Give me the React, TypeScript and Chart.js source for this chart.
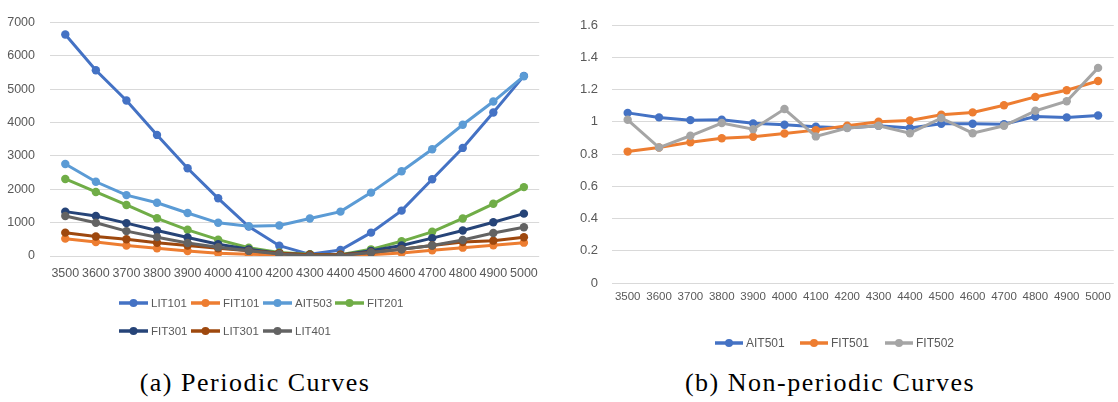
import React, { useEffect, useRef } from "react";
import { Chart, registerables } from "chart.js";
Chart.register(...registerables);

// ---------- data ----------
const categories = ["3500", "3600", "3700", "3800", "3900", "4000", "4100", "4200", "4300", "4400", "4500", "4600", "4700", "4800", "4900", "5000"];

// (a) periodic curves
const lit101 = [6640, 5570, 4660, 3630, 2630, 1730, 880, 310, 50, 180, 700, 1360, 2300, 3240, 4300, 5400];
const fit101 = [520, 420, 315, 230, 150, 85, 55, 30, 10, 10, 40, 90, 170, 250, 320, 400];
const ait503 = [2760, 2225, 1825, 1595, 1290, 995, 895, 915, 1125, 1330, 1900, 2540, 3200, 3935, 4630, 5390];
const fit201 = [2310, 1920, 1530, 1130, 785, 490, 250, 105, 55, 40, 200, 440, 725, 1125, 1565, 2065];
const fit301 = [1330, 1200, 985, 765, 555, 355, 200, 85, 40, 30, 155, 315, 535, 765, 1010, 1270];
const lit301 = [700, 585, 500, 395, 315, 230, 155, 85, 40, 40, 105, 200, 315, 420, 460, 560];
const lit401 = [1200, 995, 745, 565, 390, 265, 155, 60, 10, 10, 105, 200, 315, 480, 690, 860];
const periodicNames = ["LIT101", "FIT101", "AIT503", "FIT201", "FIT301", "LIT301", "LIT401"];
const periodicSeries = [lit101, fit101, ait503, fit201, fit301, lit301, lit401];
const periodicColors = ["#4472C4", "#ED7D31", "#5B9BD5", "#70AD47", "#264478", "#9E480E", "#636363"];

// (b) non-periodic curves
const ait501 = [1.055, 1.027, 1.01, 1.012, 0.99, 0.981, 0.969, 0.962, 0.975, 0.962, 0.988, 0.988, 0.985, 1.033, 1.027, 1.039];
const fit501 = [0.815, 0.84, 0.873, 0.898, 0.907, 0.927, 0.948, 0.975, 1.0, 1.008, 1.044, 1.058, 1.102, 1.154, 1.195, 1.253];
const fit502 = [1.012, 0.84, 0.913, 0.992, 0.954, 1.079, 0.909, 0.961, 0.975, 0.929, 1.023, 0.929, 0.975, 1.068, 1.127, 1.334];
const nonPeriodicNames = ["AIT501", "FIT501", "FIT502"];
const nonPeriodicSeries = [ait501, fit501, fit502];
const nonPeriodicColors = ["#4472C4", "#ED7D31", "#A5A5A5"];

const captionA = "(a) Periodic Curves";
const captionB = "(b) Non-periodic Curves";

const FONT = "'Liberation Sans', Arial, sans-serif";
const TEXT = "#595959";
const GRID = "#D9D9D9";

type LegendCfg = {
  rows: number[][];
  x: number;
  ys: number[];
  colWidth: number;
  lineLen: number;
  fontSize: number;
};

function makeLegend(cfg: LegendCfg) {
  return {
    id: "excelLegend",
    afterDraw(chart: any) {
      const ctx = chart.ctx;
      ctx.save();
      ctx.font = `${cfg.fontSize}px ${FONT}`;
      ctx.textBaseline = "middle";
      ctx.textAlign = "left";
      cfg.rows.forEach((row, r) => {
        const y = cfg.ys[r];
        row.forEach((di, c) => {
          const ds = chart.data.datasets[di];
          const x0 = cfg.x + c * cfg.colWidth;
          ctx.strokeStyle = ds.borderColor;
          ctx.lineWidth = 3.5;
          ctx.beginPath();
          ctx.moveTo(x0, y);
          ctx.lineTo(x0 + cfg.lineLen, y);
          ctx.stroke();
          ctx.fillStyle = ds.borderColor;
          ctx.beginPath();
          ctx.arc(x0 + cfg.lineLen / 2, y, 4, 0, Math.PI * 2);
          ctx.fill();
          ctx.fillStyle = TEXT;
          ctx.fillText(ds.label, x0 + cfg.lineLen + 3, y + 0.5);
        });
      });
      ctx.restore();
    },
  };
}

function buildDatasets(names: string[], series: number[][], colors: string[]) {
  return names.map((n, i) => ({
    label: n,
    data: series[i],
    borderColor: colors[i],
    backgroundColor: colors[i],
    pointBackgroundColor: colors[i],
    pointBorderColor: colors[i],
    borderWidth: 3,
    pointRadius: 4.2,
    pointBorderWidth: 0,
    tension: 0,
    order: names.length - i,
  }));
}

export default function App() {
  const refA = useRef<HTMLCanvasElement>(null);
  const refB = useRef<HTMLCanvasElement>(null);

  useEffect(() => {
    const chartA = new Chart(refA.current as HTMLCanvasElement, {
      type: "line",
      data: { labels: categories, datasets: buildDatasets(periodicNames, periodicSeries, periodicColors) as any },
      options: {
        animation: false,
        responsive: false,
        layout: { padding: { top: 11, right: 6, bottom: 59, left: 0 } },
        plugins: { legend: { display: false }, tooltip: { enabled: false } },
        scales: {
          x: {
            offset: true,
            grid: { display: false, drawTicks: false },
            border: { display: false },
            ticks: { color: TEXT, font: { family: FONT, size: 12.5 }, padding: 10, maxRotation: 0, autoSkip: false },
            afterFit: (s: any) => { s.height = 30; },
          },
          y: {
            min: 0,
            max: 7000,
            grid: { color: GRID, lineWidth: 1, drawTicks: false },
            border: { display: false },
            ticks: {
              stepSize: 1000,
              color: TEXT,
              font: { family: FONT, size: 12.5 },
              padding: 15,
              callback: (v: any) => String(Math.round(Number(v))),
            },
            afterFit: (s: any) => { s.width = 50; },
          },
        },
      },
      plugins: [makeLegend({ rows: [[0, 1, 2, 3], [4, 5, 6]], x: 119, ys: [303, 331], colWidth: 72, lineLen: 29, fontSize: 11.5 })],
    });

    const chartB = new Chart(refB.current as HTMLCanvasElement, {
      type: "line",
      data: { labels: categories, datasets: buildDatasets(nonPeriodicNames, nonPeriodicSeries, nonPeriodicColors) as any },
      options: {
        animation: false,
        responsive: false,
        layout: { padding: { top: 25, right: 2, bottom: 42, left: 0 } },
        plugins: { legend: { display: false }, tooltip: { enabled: false } },
        scales: {
          x: {
            offset: true,
            grid: { display: false, drawTicks: false },
            border: { display: false },
            ticks: { color: TEXT, font: { family: FONT, size: 11.5 }, padding: 7, maxRotation: 0, autoSkip: false },
            afterFit: (s: any) => { s.height = 30; },
          },
          y: {
            min: 0,
            max: 1.6,
            grid: { color: GRID, lineWidth: 1, drawTicks: false },
            border: { display: false },
            ticks: {
              stepSize: 0.2,
              color: TEXT,
              font: { family: FONT, size: 13 },
              padding: 14,
              callback: (v: any) => String(Number(Number(v).toFixed(1))),
            },
            afterFit: (s: any) => { s.width = 52; },
          },
        },
      },
      plugins: [makeLegend({ rows: [[0, 1, 2]], x: 155, ys: [343], colWidth: 85, lineLen: 28, fontSize: 12 })],
    });

    return () => {
      chartA.destroy();
      chartB.destroy();
    };
  }, []);

  const captionStyle: React.CSSProperties = {
    position: "absolute",
    top: 366,
    fontFamily: "'Liberation Serif', 'Times New Roman', serif",
    fontSize: 26,
    letterSpacing: 1.5,
    color: "#000",
    whiteSpace: "nowrap",
    transform: "translateX(-50%)",
    lineHeight: "34px",
  };

  return (
    <div style={{ position: "fixed", left: 0, top: 0, width: 1118, height: 402, background: "#fff", overflow: "hidden" }}>
      <canvas ref={refA} width={548} height={345} style={{ position: "absolute", left: 0, top: 0, display: "block" }} />
      <canvas ref={refB} width={558} height={355} style={{ position: "absolute", left: 560, top: 0, display: "block" }} />
      <div style={{ ...captionStyle, left: 255 }}>{captionA}</div>
      <div style={{ ...captionStyle, left: 830 }}>{captionB}</div>
    </div>
  );
}
